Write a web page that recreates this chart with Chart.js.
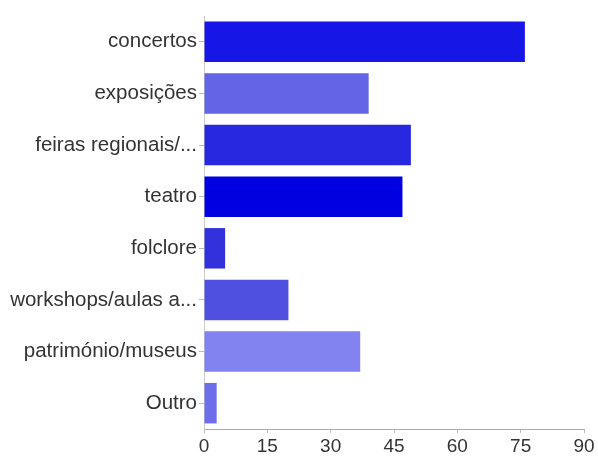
<!DOCTYPE html>
<html>
<head>
<meta charset="utf-8">
<script src="https://cdn.jsdelivr.net/npm/chart.js@4/dist/chart.umd.min.js"></script>
<style>
  html, body { margin:0; padding:0; background:#fff; }
  #wrap { width:598px; height:457px; }
</style>
</head>
<body>
<div id="wrap"><canvas id="chart"></canvas></div>
<script>
// categorias e valores
const categories = ['concertos', 'exposições', 'feiras regionais/...', 'teatro', 'folclore', 'workshops/aulas a...', 'património/museus', 'Outro'];
const counts = [76, 39, 49, 47, 5, 20, 37, 3];
const barColors = ['#1616e6', '#6464e6', '#2828e0', '#0000e0', '#3232dc', '#5050e0', '#8282f0', '#6e6eea'];
const xTicks = [0, 15, 30, 45, 60, 75, 90];

const ctx = document.getElementById('chart').getContext('2d');
new Chart(ctx, {
  type: 'bar',
  data: {
    labels: categories,
    datasets: [{
      data: counts,
      backgroundColor: barColors,
      borderWidth: 0,
      categoryPercentage: 0.8,
      barPercentage: 0.98
    }]
  },
  options: {
    indexAxis: 'y',
    responsive: true,
    maintainAspectRatio: false,
    animation: false,
    layout: { padding: { top: 16, right: 14, bottom: 0, left: 0 } },
    plugins: { legend: { display: false }, tooltip: { enabled: false } },
    scales: {
      x: {
        min: 0, max: 90,
        afterBuildTicks: s => { s.ticks = xTicks.map(v => ({ value: v })); },
        afterFit: s => { s.height = 28; },
        grid: { drawOnChartArea: false, color: '#bbb', tickLength: 4 },
        border: { color: '#aaa' },
        ticks: { color: '#333', padding: 2, font: { family: 'Liberation Sans', size: 19 } }
      },
      y: {
        afterFit: s => { s.width = 204; },
        grid: { drawOnChartArea: false, offset: false, color: '#bbb', tickLength: 5 },
        border: { color: '#ccc' },
        ticks: { color: '#333', padding: 2, font: { family: 'Liberation Sans', size: 20.5 } }
      }
    }
  }
});
</script>
</body>
</html>
